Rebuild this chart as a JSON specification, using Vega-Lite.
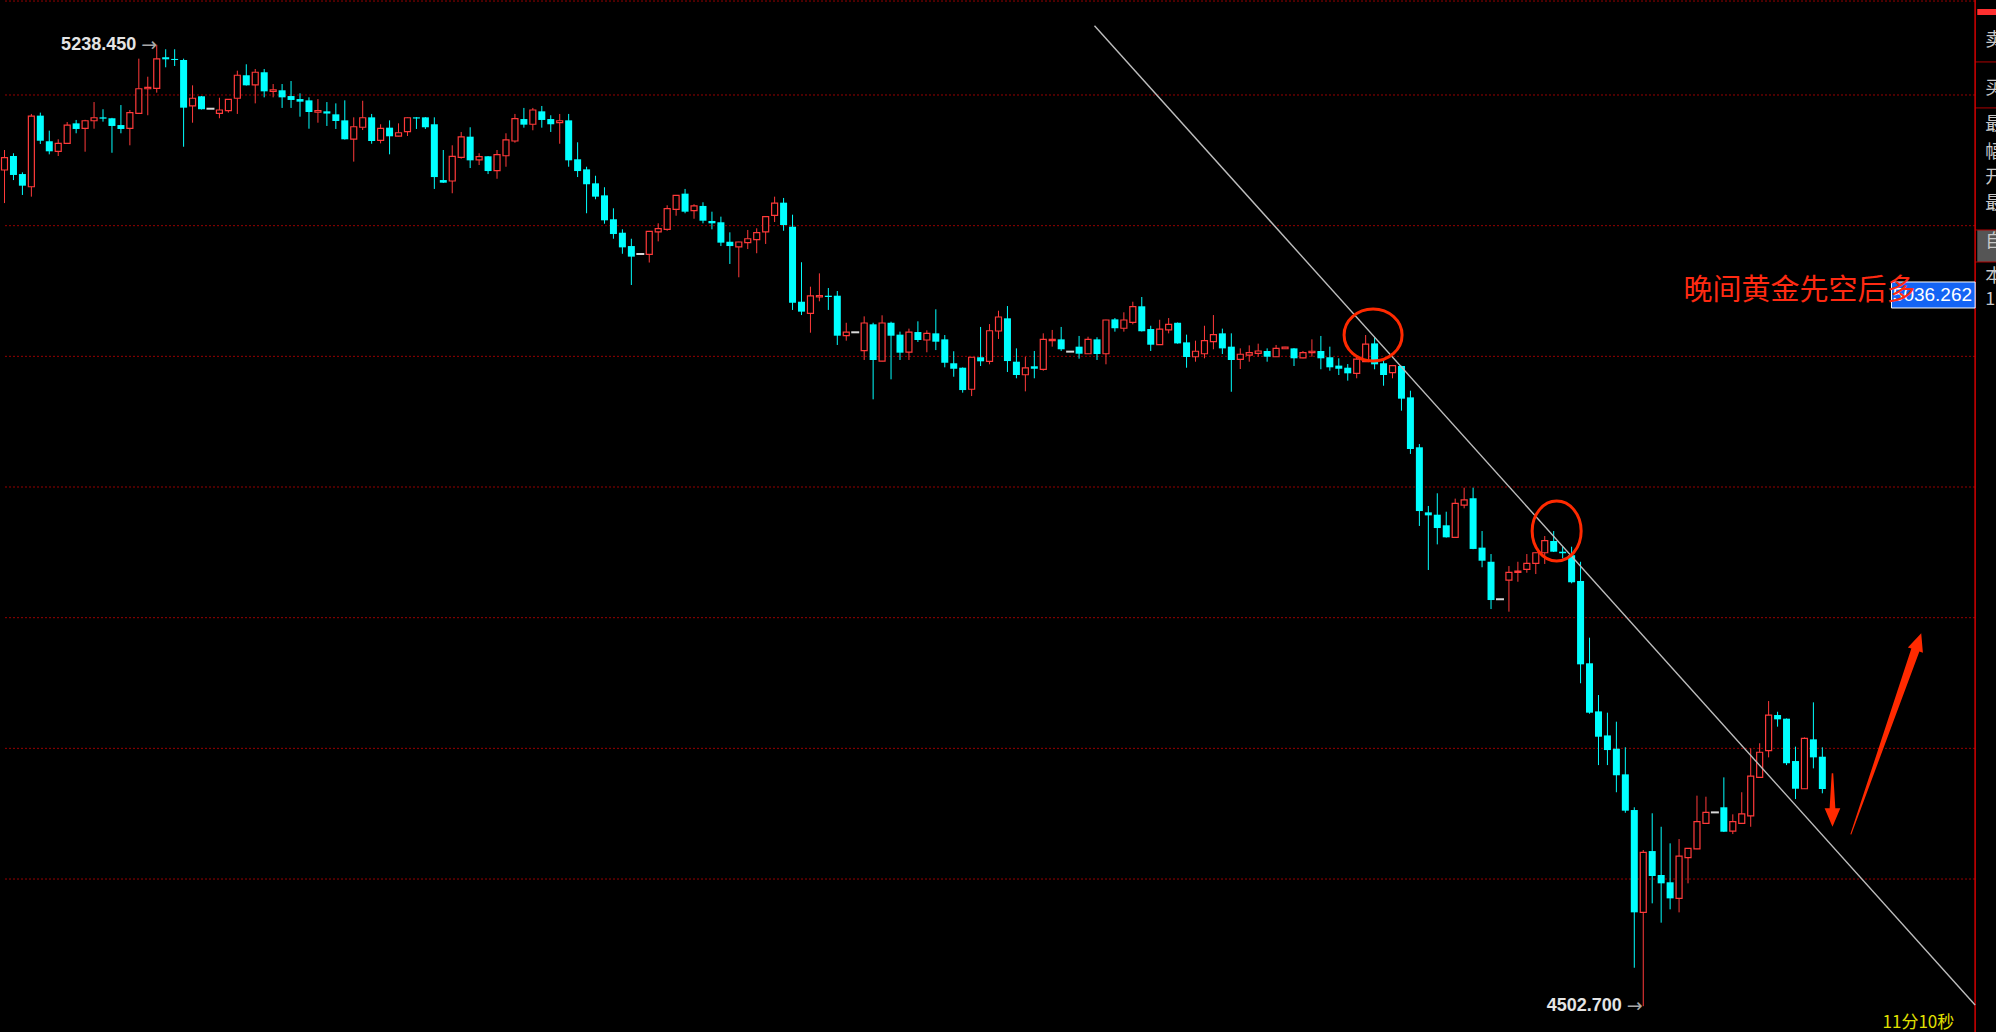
{
"$schema": "https://vega.github.io/schema/vega-lite/v6.json",
"width": 1996, "height": 1032, "padding": 0, "autosize": {"type": "none"},
"background": "#000000",
"config": {"view": {"stroke": null}, "axis": {"disable": true}},
"datasets": {
"candles": [
{"i":0,"o":5142.6,"h":5157.9,"l":5117.3,"c":5152.0},{"i":1,"o":5153.3,"h":5155.4,"l":5134.9,"c":5138.8},{"i":2,"o":5139.5,"h":5140.8,"l":5123.5,"c":5130.6},{"i":3,"o":5129.8,"h":5185.5,"l":5122.2,"c":5183.9},{"i":4,"o":5184.2,"h":5186.5,"l":5162.5,"c":5165.0},{"i":5,"o":5164.6,"h":5172.7,"l":5154.6,"c":5156.9},{"i":6,"o":5156.9,"h":5166.1,"l":5153.3,"c":5163.0},{"i":7,"o":5163.0,"h":5179.3,"l":5162.5,"c":5177.0},{"i":8,"o":5178.3,"h":5180.9,"l":5170.7,"c":5174.0},{"i":9,"o":5174.5,"h":5181.0,"l":5156.6,"c":5180.3},
{"i":10,"o":5180.3,"h":5194.6,"l":5174.2,"c":5182.6},{"i":11,"o":5182.9,"h":5189.1,"l":5179.6,"c":5181.9},{"i":12,"o":5182.2,"h":5182.5,"l":5155.8,"c":5176.3},{"i":13,"o":5177.0,"h":5192.3,"l":5170.7,"c":5174.0},{"i":14,"o":5174.5,"h":5188.5,"l":5161.5,"c":5186.5},{"i":15,"o":5186.0,"h":5227.8,"l":5185.5,"c":5204.8},{"i":16,"o":5204.8,"h":5214.0,"l":5184.5,"c":5205.9},{"i":17,"o":5205.1,"h":5238.45,"l":5201.8,"c":5227.6},{"i":18,"o":5228.9,"h":5235.0,"l":5221.2,"c":5227.3},{"i":19,"o":5227.6,"h":5235.0,"l":5222.2,"c":5226.8},
{"i":20,"o":5226.8,"h":5227.8,"l":5160.4,"c":5190.3},{"i":21,"o":5191.6,"h":5207.4,"l":5178.8,"c":5197.5},{"i":22,"o":5199.0,"h":5199.2,"l":5188.9,"c":5189.1},{"i":23,"o":5189.5,"h":5189.5,"l":5189.5,"c":5189.5},{"i":24,"o":5186.0,"h":5197.9,"l":5182.2,"c":5188.5},{"i":25,"o":5188.0,"h":5196.9,"l":5186.5,"c":5196.7},{"i":26,"o":5197.5,"h":5218.6,"l":5185.5,"c":5215.1},{"i":27,"o":5215.1,"h":5223.5,"l":5207.2,"c":5207.4},{"i":28,"o":5207.7,"h":5219.9,"l":5193.6,"c":5217.4},{"i":29,"o":5217.4,"h":5219.9,"l":5198.2,"c":5202.8},
{"i":30,"o":5202.8,"h":5208.4,"l":5198.2,"c":5204.0},{"i":31,"o":5203.6,"h":5208.4,"l":5190.1,"c":5198.2},{"i":32,"o":5199.2,"h":5210.7,"l":5190.1,"c":5196.2},{"i":33,"o":5196.9,"h":5201.3,"l":5183.4,"c":5194.9},{"i":34,"o":5195.9,"h":5198.2,"l":5174.2,"c":5187.0},{"i":35,"o":5186.8,"h":5196.9,"l":5178.8,"c":5188.0},{"i":36,"o":5187.5,"h":5194.6,"l":5176.3,"c":5185.8},{"i":37,"o":5185.2,"h":5193.6,"l":5174.0,"c":5180.1},{"i":38,"o":5180.6,"h":5195.9,"l":5165.9,"c":5166.1},{"i":39,"o":5166.3,"h":5182.9,"l":5149.0,"c":5175.7},
{"i":40,"o":5175.3,"h":5195.6,"l":5173.2,"c":5182.6},{"i":41,"o":5182.9,"h":5185.5,"l":5162.7,"c":5164.8},{"i":42,"o":5165.3,"h":5177.6,"l":5163.0,"c":5174.5},{"i":43,"o":5175.0,"h":5180.6,"l":5154.6,"c":5168.4},{"i":44,"o":5168.6,"h":5178.3,"l":5168.4,"c":5171.1},{"i":45,"o":5171.9,"h":5182.8,"l":5168.6,"c":5182.6},{"i":46,"o":5182.9,"h":5183.1,"l":5174.0,"c":5182.0},{"i":47,"o":5182.9,"h":5183.1,"l":5174.0,"c":5175.3},{"i":48,"o":5177.6,"h":5182.9,"l":5128.1,"c":5137.2},{"i":49,"o":5134.9,"h":5157.9,"l":5132.7,"c":5132.9},
{"i":50,"o":5134.2,"h":5161.5,"l":5124.8,"c":5153.1},{"i":51,"o":5152.3,"h":5171.7,"l":5151.3,"c":5167.9},{"i":52,"o":5168.1,"h":5175.3,"l":5144.1,"c":5150.0},{"i":53,"o":5150.3,"h":5155.4,"l":5146.4,"c":5152.8},{"i":54,"o":5153.1,"h":5153.3,"l":5139.5,"c":5141.8},{"i":55,"o":5142.1,"h":5157.9,"l":5135.9,"c":5154.3},{"i":56,"o":5153.5,"h":5170.7,"l":5145.1,"c":5165.6},{"i":57,"o":5164.8,"h":5185.5,"l":5163.5,"c":5181.9},{"i":58,"o":5181.6,"h":5190.1,"l":5175.0,"c":5177.3},{"i":59,"o":5177.6,"h":5190.1,"l":5173.0,"c":5188.5},
{"i":60,"o":5187.5,"h":5191.6,"l":5175.0,"c":5180.9},{"i":61,"o":5181.6,"h":5184.5,"l":5171.7,"c":5177.6},{"i":62,"o":5178.8,"h":5185.5,"l":5162.7,"c":5180.3},{"i":63,"o":5180.6,"h":5185.5,"l":5145.1,"c":5150.0},{"i":64,"o":5150.8,"h":5163.8,"l":5137.2,"c":5141.8},{"i":65,"o":5143.1,"h":5145.1,"l":5109.5,"c":5131.7},{"i":66,"o":5132.4,"h":5138.2,"l":5120.2,"c":5122.2},{"i":67,"o":5123.2,"h":5129.4,"l":5101.5,"c":5104.1},{"i":68,"o":5104.9,"h":5113.3,"l":5090.0,"c":5093.6},{"i":69,"o":5094.6,"h":5097.2,"l":5078.5,"c":5083.4},
{"i":70,"o":5084.4,"h":5090.0,"l":5054.6,"c":5076.3},{"i":71,"o":5078.3,"h":5078.3,"l":5078.3,"c":5078.3},{"i":72,"o":5078.1,"h":5096.0,"l":5071.8,"c":5095.7},{"i":73,"o":5095.2,"h":5101.8,"l":5088.0,"c":5097.7},{"i":74,"o":5097.2,"h":5115.6,"l":5096.1,"c":5113.0},{"i":75,"o":5112.5,"h":5123.4,"l":5107.6,"c":5123.2},{"i":76,"o":5124.5,"h":5128.1,"l":5109.5,"c":5110.7},{"i":77,"o":5111.5,"h":5116.4,"l":5105.3,"c":5115.1},{"i":78,"o":5115.1,"h":5117.9,"l":5101.8,"c":5103.8},{"i":79,"o":5103.6,"h":5110.7,"l":5097.2,"c":5101.8},
{"i":80,"o":5102.6,"h":5106.9,"l":5084.4,"c":5087.0},{"i":81,"o":5087.7,"h":5094.9,"l":5070.7,"c":5084.4},{"i":82,"o":5083.7,"h":5087.7,"l":5060.5,"c":5087.5},{"i":83,"o":5087.0,"h":5096.7,"l":5082.1,"c":5090.0},{"i":84,"o":5089.3,"h":5098.0,"l":5078.9,"c":5094.6},{"i":85,"o":5095.2,"h":5107.1,"l":5086.0,"c":5106.9},{"i":86,"o":5107.9,"h":5122.2,"l":5102.8,"c":5117.3},{"i":87,"o":5117.6,"h":5121.2,"l":5096.1,"c":5100.5},{"i":88,"o":5099.2,"h":5108.4,"l":5035.5,"c":5041.0},{"i":89,"o":5041.8,"h":5072.0,"l":5031.6,"c":5034.2},
{"i":90,"o":5032.9,"h":5053.3,"l":5018.1,"c":5046.2},{"i":91,"o":5045.4,"h":5063.5,"l":5042.1,"c":5046.4},{"i":92,"o":5046.4,"h":5052.3,"l":5035.5,"c":5045.4},{"i":93,"o":5046.4,"h":5050.0,"l":5008.7,"c":5015.8},{"i":94,"o":5015.8,"h":5025.7,"l":5012.0,"c":5018.6},{"i":95,"o":5018.4,"h":5018.4,"l":5018.4,"c":5018.4},{"i":96,"o":5004.3,"h":5030.6,"l":4997.2,"c":5025.5},{"i":97,"o":5024.5,"h":5025.7,"l":4967.1,"c":4997.2},{"i":98,"o":4996.4,"h":5031.4,"l":4996.2,"c":5025.5},{"i":99,"o":5025.7,"h":5026.5,"l":4982.4,"c":5015.8},
{"i":100,"o":5016.6,"h":5018.9,"l":4997.2,"c":5002.8},{"i":101,"o":5003.3,"h":5021.2,"l":4997.2,"c":5018.6},{"i":102,"o":5018.6,"h":5026.8,"l":5011.0,"c":5012.5},{"i":103,"o":5012.5,"h":5019.9,"l":5003.1,"c":5017.6},{"i":104,"o":5017.6,"h":5036.0,"l":5004.8,"c":5011.2},{"i":105,"o":5013.0,"h":5016.3,"l":4991.6,"c":4995.1},{"i":106,"o":4994.7,"h":5003.9,"l":4984.4,"c":4990.5},{"i":107,"o":4991.3,"h":4991.5,"l":4972.2,"c":4974.2},{"i":108,"o":4974.8,"h":4999.5,"l":4969.6,"c":4999.3},{"i":109,"o":4999.3,"h":5022.5,"l":4992.6,"c":4996.2},
{"i":110,"o":4996.2,"h":5024.7,"l":4993.9,"c":5019.6},{"i":111,"o":5019.4,"h":5034.9,"l":5013.3,"c":5030.1},{"i":112,"o":5029.1,"h":5038.5,"l":4988.0,"c":4996.4},{"i":113,"o":4995.9,"h":5006.1,"l":4983.2,"c":4985.7},{"i":114,"o":4985.9,"h":4999.7,"l":4973.2,"c":4991.1},{"i":115,"o":4992.4,"h":5004.1,"l":4983.2,"c":4990.5},{"i":116,"o":4990.1,"h":5017.6,"l":4989.0,"c":5013.0},{"i":117,"o":5012.0,"h":5020.2,"l":5007.4,"c":5013.0},{"i":118,"o":5013.0,"h":5022.5,"l":5004.1,"c":5005.4},{"i":119,"o":5003.6,"h":5003.6,"l":5003.6,"c":5003.6},
{"i":120,"o":5007.4,"h":5015.6,"l":4998.2,"c":5002.0},{"i":121,"o":5002.0,"h":5015.0,"l":5001.8,"c":5013.0},{"i":122,"o":5013.0,"h":5014.6,"l":4997.2,"c":5001.8},{"i":123,"o":5002.0,"h":5028.0,"l":4993.9,"c":5027.8},{"i":124,"o":5028.3,"h":5029.3,"l":5018.9,"c":5021.5},{"i":125,"o":5021.5,"h":5033.7,"l":5018.9,"c":5027.8},{"i":126,"o":5026.0,"h":5041.8,"l":5024.5,"c":5038.0},{"i":127,"o":5038.3,"h":5045.4,"l":5019.0,"c":5019.2},{"i":128,"o":5020.9,"h":5023.4,"l":5004.1,"c":5008.9},{"i":129,"o":5008.9,"h":5028.0,"l":5008.7,"c":5020.9},
{"i":130,"o":5020.2,"h":5029.3,"l":5017.6,"c":5024.5},{"i":131,"o":5025.7,"h":5025.9,"l":5009.7,"c":5009.9},{"i":132,"o":5010.7,"h":5016.6,"l":4991.3,"c":4999.5},{"i":133,"o":4999.7,"h":5012.0,"l":4995.9,"c":5003.9},{"i":134,"o":5002.0,"h":5023.4,"l":4998.5,"c":5012.0},{"i":135,"o":5011.2,"h":5031.6,"l":5005.4,"c":5016.6},{"i":136,"o":5017.6,"h":5021.2,"l":5001.8,"c":5006.1},{"i":137,"o":5007.4,"h":5017.6,"l":4972.9,"c":4997.2},{"i":138,"o":4997.7,"h":5006.1,"l":4990.3,"c":5001.6},{"i":139,"o":5001.0,"h":5008.4,"l":4995.9,"c":5002.8},
{"i":140,"o":5002.3,"h":5009.7,"l":4999.7,"c":5004.1},{"i":141,"o":5004.1,"h":5006.1,"l":4995.9,"c":4999.7},{"i":142,"o":4999.7,"h":5008.7,"l":4999.5,"c":5006.1},{"i":143,"o":5005.8,"h":5007.3,"l":5005.6,"c":5007.1},{"i":144,"o":5006.1,"h":5006.3,"l":4992.6,"c":4998.5},{"i":145,"o":4998.9,"h":5004.1,"l":4998.5,"c":5002.8},{"i":146,"o":5002.8,"h":5013.0,"l":4999.7,"c":5003.9},{"i":147,"o":5004.1,"h":5015.6,"l":4990.1,"c":4998.5},{"i":148,"o":4999.3,"h":5007.4,"l":4989.0,"c":4991.6},{"i":149,"o":4992.9,"h":4998.5,"l":4985.7,"c":4990.5},
{"i":150,"o":4991.3,"h":4994.1,"l":4981.4,"c":4987.0},{"i":151,"o":4987.0,"h":5001.0,"l":4983.2,"c":4997.9},{"i":152,"o":4995.9,"h":5016.3,"l":4995.7,"c":5009.4},{"i":153,"o":5009.9,"h":5014.3,"l":4990.1,"c":4993.9},{"i":154,"o":4994.7,"h":4997.2,"l":4977.5,"c":4985.7},{"i":155,"o":4987.5,"h":4993.4,"l":4983.2,"c":4992.9},{"i":156,"o":4992.6,"h":4992.8,"l":4958.4,"c":4967.6},{"i":157,"o":4968.6,"h":4973.7,"l":4925.3,"c":4929.1},{"i":158,"o":4930.4,"h":4932.9,"l":4870.2,"c":4881.6},{"i":159,"o":4880.6,"h":4885.5,"l":4836.5,"c":4878.3},
{"i":160,"o":4878.8,"h":4895.2,"l":4856.1,"c":4868.6},{"i":161,"o":4870.7,"h":4881.1,"l":4861.3,"c":4861.5},{"i":162,"o":4861.5,"h":4891.1,"l":4861.3,"c":4887.5},{"i":163,"o":4886.2,"h":4899.5,"l":4883.7,"c":4890.1},{"i":164,"o":4891.4,"h":4899.5,"l":4852.4,"c":4852.6},{"i":165,"o":4853.6,"h":4866.3,"l":4838.6,"c":4843.6},{"i":166,"o":4842.8,"h":4848.7,"l":4806.6,"c":4813.5},{"i":167,"o":4814.1,"h":4814.1,"l":4814.1,"c":4814.1},{"i":168,"o":4828.8,"h":4839.5,"l":4804.6,"c":4834.7},{"i":169,"o":4834.7,"h":4842.8,"l":4827.5,"c":4835.7},
{"i":170,"o":4837.0,"h":4848.7,"l":4834.4,"c":4841.6},{"i":171,"o":4841.6,"h":4849.9,"l":4833.4,"c":4849.7},{"i":172,"o":4849.7,"h":4862.5,"l":4841.1,"c":4858.9},{"i":173,"o":4858.7,"h":4866.3,"l":4850.3,"c":4850.5},{"i":174,"o":4850.5,"h":4854.3,"l":4845.4,"c":4849.3},{"i":175,"o":4847.8,"h":4854.3,"l":4826.3,"c":4827.1},{"i":176,"o":4828.1,"h":4842.8,"l":4749.8,"c":4764.3},{"i":177,"o":4765.1,"h":4784.7,"l":4726.5,"c":4727.3},{"i":178,"o":4728.3,"h":4740.8,"l":4687.2,"c":4708.9},{"i":179,"o":4709.9,"h":4727.3,"l":4687.2,"c":4698.7},
{"i":180,"o":4699.7,"h":4720.4,"l":4666.4,"c":4679.4},{"i":181,"o":4680.1,"h":4700.8,"l":4650.7,"c":4652.3},{"i":182,"o":4652.8,"h":4654.9,"l":4532.1,"c":4574.5},{"i":183,"o":4574.5,"h":4622.2,"l":4502.7,"c":4620.4},{"i":184,"o":4621.4,"h":4650.3,"l":4581.4,"c":4602.3},{"i":185,"o":4603.1,"h":4640.0,"l":4566.6,"c":4596.7},{"i":186,"o":4597.5,"h":4627.3,"l":4576.8,"c":4585.2},{"i":187,"o":4585.2,"h":4630.6,"l":4574.5,"c":4617.6},{"i":188,"o":4616.3,"h":4623.7,"l":4596.7,"c":4623.5},{"i":189,"o":4623.0,"h":4663.8,"l":4622.8,"c":4643.9},
{"i":190,"o":4642.6,"h":4663.0,"l":4642.4,"c":4651.0},{"i":191,"o":4651.0,"h":4651.0,"l":4651.0,"c":4651.0},{"i":192,"o":4654.9,"h":4677.8,"l":4636.0,"c":4636.2},{"i":193,"o":4636.7,"h":4649.5,"l":4634.4,"c":4643.9},{"i":194,"o":4642.6,"h":4666.4,"l":4642.4,"c":4649.8},{"i":195,"o":4648.4,"h":4700.0,"l":4640.0,"c":4678.8},{"i":196,"o":4677.8,"h":4703.9,"l":4677.6,"c":4697.0},{"i":197,"o":4698.2,"h":4736.2,"l":4693.1,"c":4725.5},{"i":198,"o":4725.5,"h":4728.0,"l":4716.6,"c":4722.2},{"i":199,"o":4722.7,"h":4722.9,"l":4687.2,"c":4688.6},
{"i":200,"o":4690.3,"h":4701.3,"l":4661.2,"c":4669.1},{"i":201,"o":4669.1,"h":4708.4,"l":4668.9,"c":4707.7},{"i":202,"o":4706.9,"h":4735.2,"l":4684.7,"c":4693.1},{"i":203,"o":4693.6,"h":4700.8,"l":4665.6,"c":4668.9}
],
"grid": [{"p":5271.9},{"p":5200},{"p":5100},{"p":5000},{"p":4900},{"p":4800},{"p":4700},{"p":4600}],
"trend": [{"k":121.72,"p":5253.0},{"k":220.06,"p":4503.6}],
"panelLines": [{"p":5225.3},{"p":5190.1},{"p":5096.7},{"p":5072.2}],
"panelChars": [{"k":221.2,"p":5241.3,"t":"卖"},{"k":221.2,"p":5204.6,"t":"买"},{"k":221.2,"p":5177.0,"t":"最"},{"k":221.2,"p":5155.6,"t":"幅"},{"k":221.2,"p":5136.5,"t":"开"},{"k":221.2,"p":5116.6,"t":"最"},{"k":221.2,"p":5087.5,"t":"自"},{"k":221.2,"p":5060.7,"t":"本"},{"k":221.2,"p":5043.1,"t":"1"}],
"panelBoxes": [{"k1":220.3,"k2":222.5,"p1":5265.8,"p2":5261.2,"f":"red"},{"k1":220.3,"k2":222.5,"p1":5096.7,"p2":5072.2,"f":"gray"}],
"extremes": [{"k": 16.94, "p": 5238.45, "t": "5238.450"}, {"k": 182.83, "p": 4502.7, "t": "4502.700"}]
},
"layer": [
{"data": {"name": "grid"}, "mark": {"type": "rule", "color": "#960000", "strokeWidth": 1, "strokeDash": [2, 2]},
 "encoding": {"y": {"field": "p", "type": "quantitative", "scale": {"domain": [4482.93, 5272.70], "zero": false, "nice": false}},
  "x": {"datum": 0.0556, "type": "quantitative", "scale": {"domain": [0.0556, 221.8333], "zero": false, "nice": false}}, "x2": {"datum": 220.06}}},
{"data": {"name": "panelBoxes"}, "mark": {"type": "rect"},
 "encoding": {"x": {"field": "k1", "type": "quantitative"}, "x2": {"field": "k2"}, "y": {"field": "p1", "type": "quantitative"}, "y2": {"field": "p2"},
  "color": {"field": "f", "type": "nominal", "scale": {"domain": ["red", "gray"], "range": ["#ff3030", "#555555"]}, "legend": null}}},
{"data": {"name": "panelLines"}, "mark": {"type": "rule", "color": "#b00000", "strokeWidth": 1},
 "encoding": {"y": {"field": "p", "type": "quantitative"}, "x": {"datum": 220.06, "type": "quantitative"}, "x2": {"datum": 222.5}}},
{"data": {"values": [{}]}, "mark": {"type": "rule", "color": "#d40000", "strokeWidth": 1.5},
 "encoding": {"x": {"datum": 220.06, "type": "quantitative"}}},
{"data": {"name": "panelChars"}, "mark": {"type": "text", "align": "left", "baseline": "middle", "font": "Noto Sans CJK SC", "fontSize": 18, "color": "#c8c8c8"},
 "encoding": {"x": {"field": "k", "type": "quantitative"}, "y": {"field": "p", "type": "quantitative"}, "text": {"field": "t"}}},
{"data": {"name": "candles"}, "transform": [{"filter": "datum.h > datum.l && datum.c >= datum.o"}],
 "mark": {"type": "rule", "color": "#ff3a3a", "strokeWidth": 1},
 "encoding": {"x": {"field": "i", "type": "quantitative"}, "y": {"field": "l", "type": "quantitative"}, "y2": {"field": "h"}}},
{"data": {"name": "candles"}, "transform": [{"filter": "datum.h > datum.l && datum.c < datum.o"}],
 "mark": {"type": "rule", "color": "#00ffff", "strokeWidth": 1},
 "encoding": {"x": {"field": "i", "type": "quantitative"}, "y": {"field": "l", "type": "quantitative"}, "y2": {"field": "h"}}},
{"data": {"name": "candles"}, "transform": [{"filter": "datum.c > datum.o"}],
 "mark": {"type": "bar", "size": 6, "fill": "#000000", "stroke": "#ff3a3a", "strokeWidth": 1.2},
 "encoding": {"x": {"field": "i", "type": "quantitative"}, "y": {"field": "o", "type": "quantitative"}, "y2": {"field": "c"}}},
{"data": {"name": "candles"}, "transform": [{"filter": "datum.c < datum.o"}],
 "mark": {"type": "bar", "size": 7, "fill": "#00ffff", "strokeWidth": 0},
 "encoding": {"x": {"field": "i", "type": "quantitative"}, "y": {"field": "o", "type": "quantitative"}, "y2": {"field": "c"}}},
{"data": {"name": "candles"}, "transform": [{"filter": "datum.c == datum.o"}],
 "mark": {"type": "tick", "orient": "horizontal", "size": 8, "thickness": 2, "color": "#d8d8d8", "opacity": 1},
 "encoding": {"x": {"field": "i", "type": "quantitative"}, "y": {"field": "c", "type": "quantitative"}}},
{"data": {"name": "trend"}, "mark": {"type": "line", "color": "#bdbdbd", "strokeWidth": 1.4},
 "encoding": {"x": {"field": "k", "type": "quantitative"}, "y": {"field": "p", "type": "quantitative"}}},
{"data": {"values": [{"k": 152.83, "p": 5016.3}]},
 "mark": {"type": "point", "filled": false, "stroke": "#ff2a00", "strokeWidth": 3, "opacity": 1, "size": 3364,
  "shape": "M-1,0 C-1,-0.4954 -0.5523,-0.897 0,-0.897 C0.5523,-0.897 1,-0.4954 1,0 C1,0.4954 0.5523,0.897 0,0.897 C-0.5523,0.897 -1,0.4954 -1,0 Z"},
 "encoding": {"x": {"field": "k", "type": "quantitative"}, "y": {"field": "p", "type": "quantitative"}}},
{"data": {"values": [{"k": 173.33, "p": 4866.3}]},
 "mark": {"type": "point", "filled": false, "stroke": "#ff2a00", "strokeWidth": 3, "opacity": 1, "size": 3600,
  "shape": "M-0.817,0 C-0.817,-0.5523 -0.4512,-1 0,-1 C0.4512,-1 0.817,-0.5523 0.817,0 C0.817,0.5523 0.4512,1 0,1 C-0.4512,1 -0.817,0.5523 -0.817,0 Z"},
 "encoding": {"x": {"field": "k", "type": "quantitative"}, "y": {"field": "p", "type": "quantitative"}}},
{"data": {"values": [{"k": 210.11, "p": 4711.1}]},
 "mark": {"type": "point", "filled": true, "fill": "#ff2a00", "strokeWidth": 0, "opacity": 1, "size": 45369, "angle": 19.3,
  "shape": "M0,-1 L0.075,-0.834 L0.04,-0.834 L0.005,1 L-0.005,1 L-0.04,-0.834 L-0.075,-0.834 Z"},
 "encoding": {"x": {"field": "k", "type": "quantitative"}, "y": {"field": "p", "type": "quantitative"}}},
{"data": {"values": [{"k": 204.13, "p": 4660.5}]},
 "mark": {"type": "point", "filled": true, "fill": "#ff2a00", "strokeWidth": 0, "opacity": 1, "size": 2852,
  "shape": "M0,1 L0.294,0.311 L0.107,0.311 L0.028,-1 L-0.028,-1 L-0.107,0.311 L-0.294,0.311 Z"},
 "encoding": {"x": {"field": "k", "type": "quantitative"}, "y": {"field": "p", "type": "quantitative"}}},
{"data": {"values": [{"k1": 210.72, "k2": 220.06, "p1": 5056.9, "p2": 5037.0}]},
 "mark": {"type": "rect", "fill": "#1464f4", "stroke": "#ffffff", "strokeWidth": 1},
 "encoding": {"x": {"field": "k1", "type": "quantitative"}, "x2": {"field": "k2"}, "y": {"field": "p1", "type": "quantitative"}, "y2": {"field": "p2"}}},
{"data": {"values": [{"k": 219.72, "p": 5046.9, "t": "5036.262"}]},
 "mark": {"type": "text", "align": "right", "baseline": "middle", "font": "Liberation Sans", "fontSize": 19, "color": "#ffffff"},
 "encoding": {"x": {"field": "k", "type": "quantitative"}, "y": {"field": "p", "type": "quantitative"}, "text": {"field": "t"}}},
{"data": {"values": [{"k": 187.5, "p": 5050.0, "t": "晚间黄金先空后多"}]},
 "mark": {"type": "text", "align": "left", "baseline": "middle", "font": "Noto Sans CJK SC", "fontSize": 29, "color": "#ff2a12"},
 "encoding": {"x": {"field": "k", "type": "quantitative"}, "y": {"field": "p", "type": "quantitative"}, "text": {"field": "t"}}},
{"data": {"name": "extremes"},
 "mark": {"type": "text", "align": "right", "baseline": "middle", "dx": -20, "font": "Liberation Sans", "fontWeight": "bold", "fontSize": 18, "color": "#e4e4e4"},
 "encoding": {"x": {"field": "k", "type": "quantitative"}, "y": {"field": "p", "type": "quantitative"}, "text": {"field": "t"}}},
{"data": {"name": "extremes"},
 "mark": {"type": "text", "align": "right", "baseline": "middle", "dx": 1, "font": "DejaVu Sans", "fontSize": 19, "color": "#a8a8a8", "text": "→"},
 "encoding": {"x": {"field": "k", "type": "quantitative"}, "y": {"field": "p", "type": "quantitative"}}},
{"data": {"values": [{"k": 209.72, "p": 4489.8, "t": "11分10秒"}]},
 "mark": {"type": "text", "align": "left", "baseline": "middle", "font": "Noto Sans CJK SC", "fontSize": 17, "color": "#e0e000"},
 "encoding": {"x": {"field": "k", "type": "quantitative"}, "y": {"field": "p", "type": "quantitative"}, "text": {"field": "t"}}}
]
}
